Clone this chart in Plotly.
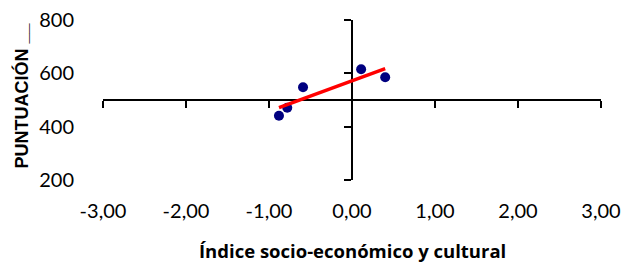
import numpy as np
import plotly.graph_objects as go

# Data
isec = [-0.88, -0.78, -0.59, 0.11, 0.40]          # Índice socio-económico y cultural
puntuacion = [441, 471, 548, 615, 585]            # PUNTUACIÓN
x_ticks = [-3, -2, -1, 0, 1, 2, 3]
x_tick_labels = ["-3,00", "-2,00", "-1,00", "0,00", "1,00", "2,00", "3,00"]
y_ticks = [200, 400, 600, 800]
y_tick_labels = ["200", "400", "600", "800"]

# Linear trendline from the data
slope, intercept = np.polyfit(isec, puntuacion, 1)
trend_x = [min(isec), max(isec)]
trend_y = [slope * v + intercept for v in trend_x]

fig = go.Figure()
fig.add_trace(go.Scatter(
    x=isec, y=puntuacion, mode="markers",
    marker=dict(color="#000080", size=10, line=dict(width=0)),
    showlegend=False, hoverinfo="x+y",
))
fig.add_trace(go.Scatter(
    x=trend_x, y=trend_y, mode="lines", xaxis="x2", yaxis="y2",
    line=dict(color="#FF0000", width=3.5),
    showlegend=False, hoverinfo="skip",
))

tick_font = dict(family="Lato, 'Open Sans', sans-serif", size=20, color="#000000")

fig.update_layout(
    template="none",
    width=627, height=265,
    margin=dict(l=103, r=26, t=20, b=85, pad=0, autoexpand=False),
    paper_bgcolor="white", plot_bgcolor="white",
    showlegend=False,
    xaxis=dict(
        range=[-3, 3], tickvals=x_ticks, ticktext=x_tick_labels,
        showgrid=False, zeroline=False, showline=False, ticks="",
        tickfont=tick_font, ticklabelstandoff=17, automargin=False,
    ),
    yaxis=dict(
        range=[200, 800], tickvals=y_ticks, ticktext=y_tick_labels,
        showgrid=False, zeroline=False, showline=False, ticks="",
        tickfont=tick_font, ticklabelstandoff=28, automargin=False,
    ),
    xaxis2=dict(
        overlaying="x", anchor="free", position=0.5,
        range=[-3, 3], tickvals=x_ticks, showticklabels=False,
        showgrid=False, zeroline=False, showline=True,
        linecolor="#000000", linewidth=2, automargin=False,
        ticks="outside", ticklen=7, tickwidth=2, tickcolor="#000000",
        layer="below traces",
    ),
    yaxis2=dict(
        overlaying="y", anchor="free", position=0.5, side="left",
        range=[200, 800], tickvals=y_ticks, showticklabels=False,
        showgrid=False, zeroline=False, showline=True,
        linecolor="#000000", linewidth=2, automargin=False,
        ticks="outside", ticklen=7, tickwidth=2, tickcolor="#000000",
        layer="below traces",
    ),
    annotations=[
        dict(
            text="<b>Índice socio-económico y cultural</b>",
            xref="paper", yref="paper", x=0.5, y=-0.4375,
            xanchor="center", yanchor="middle", showarrow=False,
            font=dict(family="'Open Sans', Lato, sans-serif", size=18.5, color="#000000"),
        ),
        dict(
            text="<b>PUNTUACIÓN __</b>",
            xref="paper", yref="paper", x=-0.1627, y=0.528,
            xanchor="center", yanchor="middle", showarrow=False,
            textangle=-90,
            font=dict(family="'Liberation Sans', Arial, sans-serif", size=18, color="#000000"),
        ),
    ],
)

fig.write_html(
    "out.html",
    config={"displayModeBar": False},
    post_script="document.body.style.margin='0';document.body.style.overflow='hidden';",
)
